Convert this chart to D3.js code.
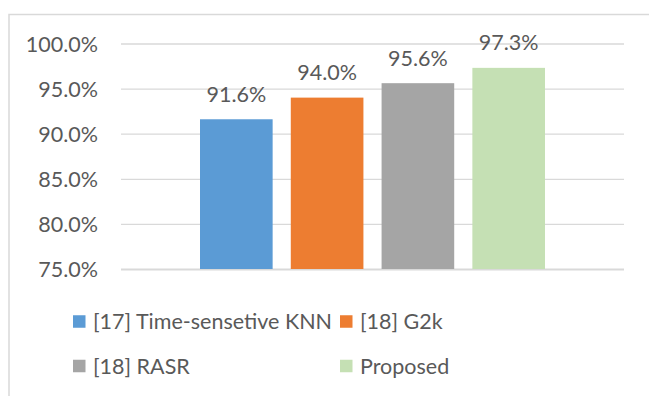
<!DOCTYPE html>
<html>
<head>
<meta charset="utf-8">
<script src="https://cdn.jsdelivr.net/npm/d3@7"></script>
<style>
  html, body { margin: 0; padding: 0; background: #fff; }
  svg { display: block; }
  text { font-family: Lato, "Open Sans", sans-serif; fill: #595959; }
</style>
</head>
<body>
<svg id="chart" width="649" height="396"></svg>
<script>
// Accuracy of each method (one category, four series)
const seriesNames = ["[17] Time-sensetive KNN", "[18] G2k", "[18] RASR", "Proposed"];
const accuracy = [0.916, 0.940, 0.956, 0.973];
const seriesColors = ["#5B9BD5", "#ED7D31", "#A5A5A5", "#C5E0B4"];
const yTicks = [0.75, 0.80, 0.85, 0.90, 0.95, 1.00];
const yDomain = [0.75, 1.00];

const svg = d3.select("#chart");
const fontSize = 21.5;

// chart frame (runs off the right and bottom edges)
svg.append("rect")
  .attr("x", 9).attr("y", 14.5)
  .attr("width", 700).attr("height", 500)
  .attr("fill", "#fff")
  .attr("stroke", "#D9D9D9").attr("stroke-width", 1.5);

const plot = { left: 121, right: 624, top: 43.5, bottom: 269 };

const y = d3.scaleLinear().domain(yDomain).range([plot.bottom, plot.top]);

// single category band, series bars inside it
const groupPad = 79;
const x = d3.scaleBand()
  .domain(seriesNames)
  .range([plot.left + groupPad, plot.right - groupPad])
  .paddingInner(0.2)
  .paddingOuter(0);

const fmt = d3.format(".1%");

// gridlines and tick labels
const yAxis = d3.axisLeft(y)
  .tickValues(yTicks)
  .tickSize(-(plot.right - plot.left))
  .tickPadding(23)
  .tickFormat(fmt);

const gy = svg.append("g")
  .attr("transform", `translate(${plot.left},0)`)
  .call(yAxis);
gy.select(".domain").remove();
gy.selectAll(".tick line")
  .attr("stroke", "#D9D9D9")
  .attr("stroke-width", d => d === yDomain[0] ? 1.8 : 1.3);
gy.selectAll(".tick text")
  .attr("font-size", fontSize)
  .attr("font-family", 'Lato, "Open Sans", sans-serif')
  .attr("fill", "#595959")
  .attr("dy", "0.36em");

// bars
svg.append("g").selectAll("rect")
  .data(seriesNames)
  .join("rect")
  .attr("x", d => x(d))
  .attr("width", x.bandwidth())
  .attr("y", (d, i) => y(accuracy[i]))
  .attr("height", (d, i) => y(yDomain[0]) - y(accuracy[i]))
  .attr("fill", (d, i) => seriesColors[i]);

// value labels
svg.append("g").selectAll("text")
  .data(seriesNames)
  .join("text")
  .attr("x", d => x(d) + x.bandwidth() / 2)
  .attr("y", (d, i) => y(accuracy[i]) - 17.5)
  .attr("text-anchor", "middle")
  .attr("font-size", fontSize)
  .text((d, i) => fmt(accuracy[i]));

// legend, two columns by two rows
const legendCols = [73, 340];
const legendRows = [321.5, 366];
const sw = 12.5;
const legend = svg.append("g").selectAll("g")
  .data(seriesNames)
  .join("g")
  .attr("transform", (d, i) => `translate(${legendCols[i % 2]},${legendRows[Math.floor(i / 2)]})`);
legend.append("rect")
  .attr("x", 0).attr("y", -sw / 2)
  .attr("width", sw).attr("height", sw)
  .attr("fill", (d, i) => seriesColors[i]);
legend.append("text")
  .attr("x", 20)
  .attr("y", 0)
  .attr("dy", "0.36em")
  .attr("font-size", fontSize)
  .text(d => d);
</script>
</body>
</html>
